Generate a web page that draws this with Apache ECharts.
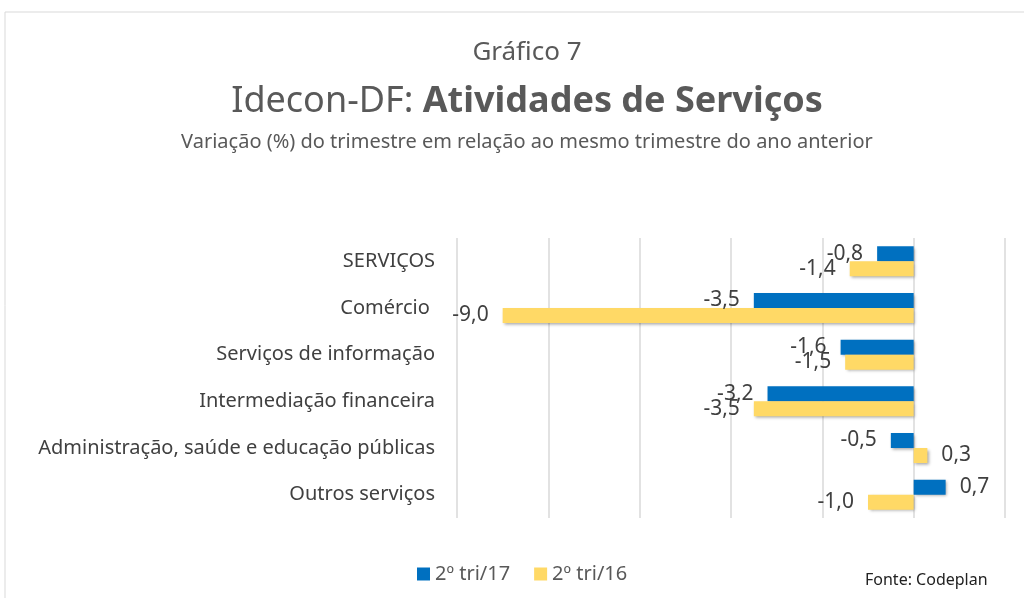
<!DOCTYPE html>
<html>
<head>
<meta charset="utf-8">
<script src="https://cdn.jsdelivr.net/npm/echarts@6/dist/echarts.min.js"></script>
<style>
  html, body { margin: 0; padding: 0; background: #fff; }
  #container { width: 1024px; height: 598px; }
</style>
</head>
<body>
<div id="container"></div>
<script>
// dados do gráfico
var categorias = ['SERVIÇOS', 'Comércio ', 'Serviços de informação', 'Intermediação financeira', 'Administração, saúde e educação públicas', 'Outros serviços'];
var tri17 = [-0.8, -3.5, -1.6, -3.2, -0.5, 0.7];
var tri16 = [-1.4, -9.0, -1.5, -3.5, 0.3, -1.0];
var nomes = ['2º tri/17', '2º tri/16'];

var fonte = '"Noto Sans", sans-serif';
var dom = document.getElementById('container');
var myChart = echarts.init(dom, null, { renderer: 'canvas' });

function fmt(v) {
  return v.toFixed(1).replace('.', ',');
}
function montar(vals) {
  return vals.map(function (v) {
    return { value: v, label: { position: v < 0 ? 'left' : 'right' } };
  });
}
function serie(nome, vals, cor) {
  return {
    name: nome,
    type: 'bar',
    barWidth: 15,
    barGap: '0%',
    itemStyle: {
      color: cor,
      shadowColor: 'rgba(0,0,0,0.35)',
      shadowBlur: 3,
      shadowOffsetX: 1.5,
      shadowOffsetY: 1.5
    },
    label: {
      show: true,
      distance: 14,
      color: '#404040',
      fontSize: 21,
      fontFamily: fonte,
      formatter: function (p) { return fmt(p.value); }
    },
    data: montar(vals)
  };
}

var option = {
  animation: false,
  textStyle: { fontFamily: fonte },
  title: [
    {
      text: 'Gráfico 7',
      left: 522,
      textAlign: 'center',
      top: 35,
      textStyle: { fontSize: 26, fontWeight: 'normal', color: '#595959', fontFamily: fonte }
    },
    {
      text: '{a|Idecon-DF: }{b|Atividades de Serviços}',
      left: 522,
      textAlign: 'center',
      top: 79,
      textStyle: {
        rich: {
          a: { fontSize: 36, color: '#595959', fontWeight: 'normal', fontFamily: fonte },
          b: { fontSize: 36, color: '#595959', fontWeight: 'bold', fontFamily: fonte }
        }
      }
    },
    {
      text: 'Variação (%) do trimestre em relação ao mesmo trimestre do ano anterior',
      left: 522,
      textAlign: 'center',
      top: 127,
      textStyle: { fontSize: 20, fontWeight: 'normal', color: '#595959', fontFamily: fonte }
    },
    {
      text: 'Fonte: Codeplan',
      left: 860,
      top: 567,
      textStyle: { fontSize: 16, fontWeight: 'normal', color: '#222', fontFamily: fonte }
    }
  ],
  graphic: [
    {
      type: 'rect',
      shape: { x: 5, y: 12, width: 1030, height: 600 },
      style: { fill: 'none', stroke: '#d9d9d9', lineWidth: 1 },
      silent: true
    }
  ],
  legend: {
    data: nomes,
    left: 412,
    top: 559,
    icon: 'rect',
    itemWidth: 13,
    itemHeight: 13,
    itemGap: 24,
    textStyle: { fontSize: 20, color: '#595959', fontFamily: fonte }
  },
  grid: { left: 457, right: 19, top: 238, bottom: 80 },
  xAxis: {
    type: 'value',
    min: -10,
    max: 2,
    interval: 2,
    axisLabel: { show: false },
    axisLine: { show: false },
    axisTick: { show: false },
    splitLine: { lineStyle: { color: '#d9d9d9', width: 1.5 } }
  },
  yAxis: {
    type: 'category',
    inverse: true,
    data: categorias,
    axisLine: { show: false },
    axisTick: { show: false },
    axisLabel: { margin: 22, fontSize: 20, color: '#404040', fontFamily: fonte }
  },
  series: [
    serie(nomes[0], tri17, '#0070C0'),
    serie(nomes[1], tri16, '#FFD966')
  ]
};

myChart.setOption(option);
window.addEventListener('resize', function () { myChart.resize(); });
</script>
</body>
</html>
